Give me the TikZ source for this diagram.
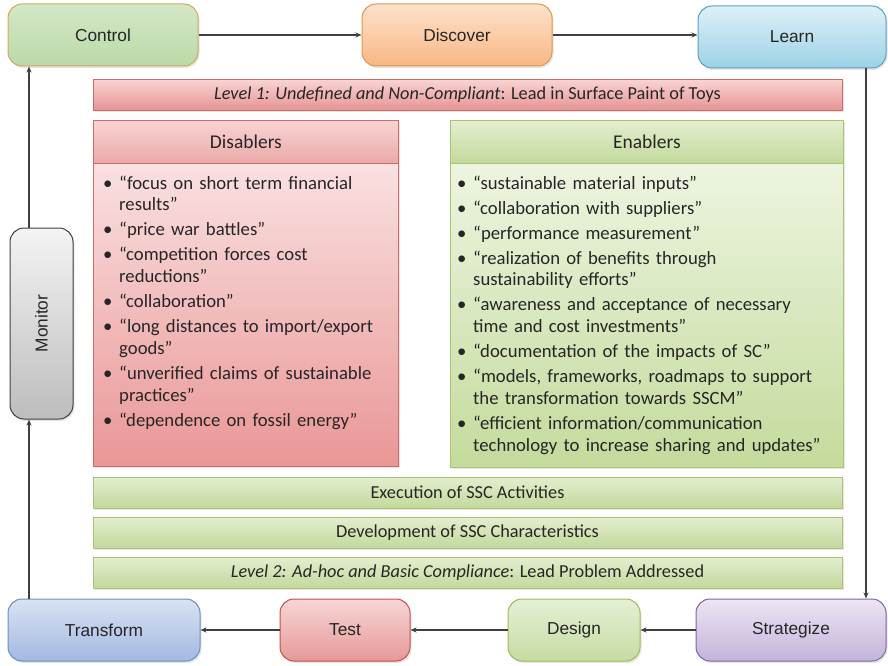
\documentclass[tikz,border=0pt]{standalone}
\usepackage{fontspec}
\usepackage{graphicx}
\setmainfont{Carlito}
\newfontfamily\arialf{Liberation Sans}
\usetikzlibrary{arrows.meta,shadows}
\definecolor{lineC}{HTML}{404040}
\definecolor{ctrlT}{HTML}{D3E8C6}\definecolor{ctrlB}{HTML}{BCD9A8}\definecolor{ctrlD}{HTML}{D9A65C}
\definecolor{discT}{HTML}{FDE2CB}\definecolor{discB}{HTML}{F8B784}\definecolor{discD}{HTML}{E0964F}
\definecolor{learnT}{HTML}{DDF1F8}\definecolor{learnB}{HTML}{9DD2E5}\definecolor{learnD}{HTML}{5F9DBF}
\definecolor{monT}{HTML}{F4F4F4}\definecolor{monB}{HTML}{BDBDBD}\definecolor{monD}{HTML}{404040}
\definecolor{trT}{HTML}{D8E2F3}\definecolor{trB}{HTML}{A3B9E0}\definecolor{trD}{HTML}{6C8EBF}
\definecolor{testT}{HTML}{F8D6D6}\definecolor{testB}{HTML}{E69898}\definecolor{testD}{HTML}{C0504D}
\definecolor{desT}{HTML}{E5F0D5}\definecolor{desB}{HTML}{C5DCA2}\definecolor{desD}{HTML}{9BBB59}
\definecolor{strT}{HTML}{EDE6F4}\definecolor{strB}{HTML}{C3B3DA}\definecolor{strD}{HTML}{8064A2}
\definecolor{redT}{HTML}{F9D3D3}\definecolor{redB}{HTML}{E69393}\definecolor{redD}{HTML}{CD6B68}
\definecolor{redBodyT}{HTML}{FCEBEB}\definecolor{redBodyB}{HTML}{EA9696}
\definecolor{grT}{HTML}{E3EECF}\definecolor{grB}{HTML}{C3D99C}\definecolor{grD}{HTML}{A9C66F}
\definecolor{grBodyT}{HTML}{F3F8EA}\definecolor{grBodyB}{HTML}{C4DB9C}
\tikzset{
  shad/.style={drop shadow={opacity=0.2, shadow xshift=1.5pt, shadow yshift=-2pt}},
  stagebox/.style={draw, line width=1pt, rounded corners=14pt, minimum height=62pt, font=\arialf\fontsize{17.3}{20}\selectfont, text=black!85, shad},
  barbox/.style={draw, line width=0.8pt, minimum width=749pt, minimum height=31pt, font=\fontsize{18.3}{21}\selectfont, text=black!85, shad},
  redfill/.style={top color=redT, bottom color=redB, draw=redD},
  greenfill/.style={top color=grT, bottom color=grB, draw=grD},
  arr/.style={draw=lineC, line width=1.1pt, -{Stealth[length=6pt,width=5pt]}},
  listtext/.style={anchor=north west, align=left, font=\fontsize{18.7}{21.7}\selectfont, text=black!85, inner sep=0pt}
}
\newcommand\itm[1]{\par\noindent\hangindent=16pt\hangafter=1\makebox[16pt][l]{\textbullet}#1\par}
\begin{document}
\begin{tikzpicture}[x=1pt,y=-1pt]
\useasboundingbox (0,0) rectangle (888,666);
% stage boxes
\node[stagebox, minimum width=190pt, top color=ctrlT, bottom color=ctrlB, draw=ctrlD] (control) at (103,35) {Control};
\node[stagebox, minimum width=190pt, top color=discT, bottom color=discB, draw=discD] (discover) at (457,35) {Discover};
\node[stagebox, minimum width=188pt, top color=learnT, bottom color=learnB, draw=learnD] (learn) at (792,37) {Learn};
\node[stagebox, minimum width=63pt, minimum height=191pt, top color=monT, bottom color=monB, draw=monD] (monitor) at (41.5,323.5) {\rotatebox{90}{Monitor}};
\node[stagebox, minimum width=192pt, top color=trT, bottom color=trB, draw=trD] (transform) at (104,630) {Transform};
\node[stagebox, minimum width=130pt, top color=testT, bottom color=testB, draw=testD] (test) at (345,630) {Test};
\node[stagebox, minimum width=132pt, top color=desT, bottom color=desB, draw=desD] (design) at (574,630) {Design};
\node[stagebox, minimum width=190pt, top color=strT, bottom color=strB, draw=strD] (strategize) at (791,630) {Strategize};
% bars
\node[barbox, redfill] (level1) at (467.5,95) {\textit{Level 1: Undefined and Non-Compliant}: Lead in Surface Paint of Toys};
\node[barbox, greenfill] (exec) at (467.5,492.5) {Execution of SSC Activities};
\node[barbox, greenfill] (devel) at (467.5,532.5) {Development of SSC Characteristics};
\node[barbox, greenfill] (level2) at (467.5,572.5) {\textit{Level 2: Ad-hoc and Basic Compliance}: Lead Problem Addressed};
% disablers
\node[line width=0.8pt, top color=redBodyT, bottom color=redBodyB, draw=redD, minimum width=305pt, minimum height=346pt, anchor=north west, inner sep=0pt, shad] (disbox) at (93,120) {};
\node[draw, line width=0.8pt, top color=redT, bottom color=redB!80!white, draw=redD, minimum width=305pt, minimum height=43pt, anchor=north west, font=\fontsize{19.5}{22}\selectfont, text=black!85] (dishead) at (93,120) {Disablers};
\node[listtext, text width=290pt] (dislist) at (103,164) {\parskip=3.3pt
\itm{“focus on short term financial\newline results”}
\itm{“price war battles”}
\itm{“competition forces cost\newline reductions”}
\itm{“collaboration”}
\itm{“long distances to import/export\newline goods”}
\itm{“unverified claims of sustainable\newline practices”}
\itm{“dependence on fossil energy”}};
% enablers
\node[line width=0.8pt, top color=grBodyT, bottom color=grBodyB, draw=grD, minimum width=393pt, minimum height=347pt, anchor=north west, inner sep=0pt, shad] (enbox) at (450,120) {};
\node[draw, line width=0.8pt, top color=grT, bottom color=grB, draw=grD, minimum width=393pt, minimum height=43pt, anchor=north west, font=\fontsize{19.5}{22}\selectfont, text=black!85] (enhead) at (450,120) {Enablers};
\node[listtext, text width=388pt] (enlist) at (457,164) {\parskip=3.3pt
\itm{“sustainable material inputs”}
\itm{“collaboration with suppliers”}
\itm{“performance measurement”}
\itm{“realization of benefits through\newline sustainability efforts”}
\itm{“awareness and acceptance of necessary\newline time and cost investments”}
\itm{“documentation of the impacts of SC”}
\itm{“models, frameworks, roadmaps to support\newline the transformation towards SSCM”}
\itm{“efficient information/communication\newline technology to increase sharing and updates”}};
% connectors
\draw[arr] (control) -- (discover);
\draw[arr] (discover.east) -- (learn.west |- discover.east);
\draw[arr] ([xshift=74pt]learn.south) -- ([xshift=74pt]learn.south |- strategize.north);
\draw[arr] (strategize) -- (design);
\draw[arr] (design) -- (test);
\draw[arr] (test) -- (transform);
\draw[arr] ([xshift=-75pt]transform.north) -- ([xshift=-75pt]transform.north |- monitor.south);
\draw[arr] ([xshift=-75pt]transform.north |- monitor.north) -- ([xshift=-74pt]control.south);
\end{tikzpicture}
\end{document}
